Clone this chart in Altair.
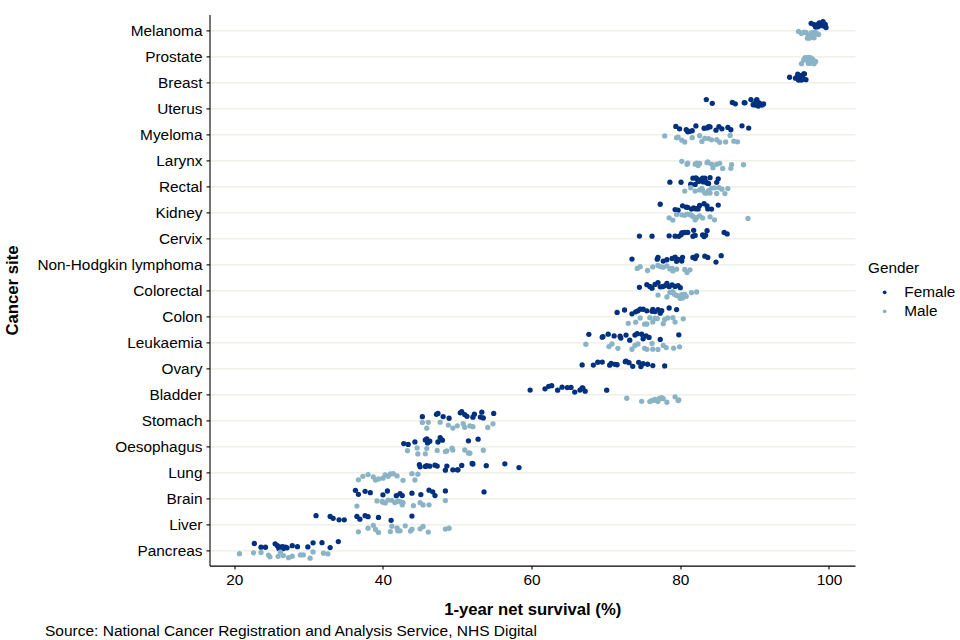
import altair as alt
import pandas as pd

# ---------------- data (1-year net survival, %) ----------------
sites = ["Melanoma", "Prostate", "Breast", "Uterus", "Myeloma", "Larynx", "Rectal",
         "Kidney", "Cervix", "Non-Hodgkin lymphoma", "Colorectal", "Colon", "Leukaemia",
         "Ovary", "Bladder", "Stomach", "Oesophagus", "Lung", "Brain", "Liver", "Pancreas"]
genders = ["Female", "Male"]

melanoma_f = [97.6, 98.0, 98.3, 98.5, 98.7, 98.8, 98.9, 99.0, 99.1, 99.2, 99.3, 99.4, 99.5, 99.6, 98.6, 99.0, 98.2]
melanoma_m = [95.9, 96.3, 96.6, 96.9, 97.1, 97.3, 97.4, 97.6, 97.7, 97.9, 98.0, 98.2, 98.4, 98.6, 97.5, 97.2, 97.8]
prostate_m = [96.3, 96.6, 96.8, 97.0, 97.1, 97.2, 97.3, 97.4, 97.5, 97.6, 97.7, 97.8, 98.0, 98.2, 97.2, 97.5]
breast_f = [94.7, 95.5, 95.7, 95.8, 95.9, 96.0, 96.1, 96.2, 96.3, 96.4, 96.5, 96.6, 96.7, 96.9, 96.0, 96.3]
uterus_f = [83.5, 84.3, 87.0, 87.4, 88.6, 88.7, 89.5, 89.8, 90.0, 90.1, 90.2, 90.3, 90.4, 90.5, 90.6, 90.7, 90.8, 91.0, 91.2, 89.9]
myeloma_f = [79.4, 79.9, 80.8, 81.2, 81.6, 82.1, 83.2, 83.6, 83.8, 84.8, 85.2, 85.6, 86.4, 86.8, 88.3, 89.2, 81.0, 84.0]
myeloma_m = [77.9, 79.5, 79.7, 80.6, 81.6, 82.6, 83.3, 83.8, 84.2, 84.9, 85.3, 86.1, 86.7, 87.2, 87.7, 80.2, 82.9]
larynx_m = [80.2, 80.9, 81.0, 82.0, 82.2, 82.4, 82.6, 83.6, 83.7, 84.2, 84.4, 84.9, 85.3, 85.7, 86.8, 86.9, 88.5]
rectal_f = [78.6, 80.1, 81.4, 81.7, 82.0, 82.1, 82.3, 82.4, 82.6, 82.8, 83.0, 83.1, 83.3, 83.4, 83.6, 83.8, 84.0, 84.9, 85.1]
rectal_m = [80.6, 81.4, 82.0, 82.6, 82.9, 83.3, 83.5, 83.8, 84.2, 84.6, 84.9, 85.2, 85.6, 86.0, 86.4, 83.0, 84.0]
kidney_f = [77.3, 79.3, 79.7, 80.3, 81.0, 81.5, 82.0, 82.4, 82.6, 83.6, 83.7, 85.1, 80.8, 81.8, 82.2, 83.2, 84.2]
kidney_m = [78.5, 79.0, 79.5, 80.2, 80.6, 81.3, 81.7, 82.2, 82.6, 84.0, 84.6, 89.1, 80.9, 81.5, 82.0, 83.0]
cervix_f = [74.5, 76.2, 78.5, 79.3, 79.8, 80.1, 80.2, 80.3, 80.6, 81.0, 81.7, 81.8, 82.0, 83.0, 83.2, 83.4, 83.6, 85.9, 86.3]
nhl_f = [73.5, 76.9, 77.0, 77.7, 78.2, 78.9, 79.3, 79.5, 79.7, 80.2, 80.3, 81.7, 82.0, 82.2, 83.3, 83.7, 84.8, 85.5]
nhl_m = [74.2, 74.6, 75.6, 76.3, 77.3, 77.7, 78.2, 78.6, 79.0, 79.5, 80.6, 80.9, 81.3, 77.0, 78.9]
colorectal_f = [74.5, 75.5, 75.9, 76.6, 77.0, 77.3, 77.9, 78.2, 78.9, 79.3, 79.7, 80.0, 76.2, 77.6, 78.5]
colorectal_m = [77.0, 78.2, 78.6, 79.0, 79.5, 79.7, 80.0, 80.2, 80.3, 80.6, 81.5, 82.2, 79.2, 80.8]
colon_f = [71.5, 72.5, 73.5, 74.0, 74.6, 75.0, 75.5, 76.2, 76.3, 77.0, 77.3, 77.5, 78.5, 79.5, 74.3, 76.6]
colon_m = [73.0, 74.0, 74.6, 75.2, 75.5, 76.3, 76.6, 76.9, 77.7, 77.9, 78.3, 79.0, 79.3, 80.4, 75.9]
leukaemia_f = [67.7, 69.5, 69.6, 70.3, 71.1, 71.9, 72.7, 73.2, 73.9, 74.2, 75.0, 75.4, 75.8, 77.3, 79.8, 72.0, 74.8]
leukaemia_m = [67.3, 70.4, 70.8, 71.6, 73.5, 73.9, 74.3, 75.2, 75.5, 76.2, 76.3, 77.0, 77.7, 78.1, 79.1, 79.9]
ovary_f = [66.8, 68.3, 68.9, 69.5, 70.5, 70.7, 71.2, 71.5, 72.6, 72.7, 73.1, 73.6, 74.4, 74.7, 75.0, 75.6, 76.3, 77.9]
bladder_f = [59.8, 61.8, 62.3, 62.7, 63.5, 64.1, 64.8, 65.3, 65.8, 66.5, 66.8, 66.9, 67.2, 70.1]
bladder_m = [72.8, 74.8, 75.9, 76.2, 76.6, 76.9, 77.0, 77.5, 77.7, 78.2, 79.3, 79.7, 79.8, 76.4, 77.2]
stomach_f = [45.3, 47.2, 47.4, 48.1, 48.9, 50.4, 50.6, 51.0, 51.3, 52.1, 52.3, 53.1, 53.3, 53.5, 54.9]
stomach_m = [45.3, 45.9, 46.1, 47.7, 48.8, 49.4, 50.0, 50.8, 51.0, 51.7, 52.1, 54.1, 54.8]
oesophagus_f = [42.8, 43.4, 44.3, 45.7, 45.9, 46.3, 47.4, 47.7, 48.0, 51.5, 52.8, 46.0]
oesophagus_m = [43.3, 44.6, 44.7, 45.7, 45.9, 47.3, 48.4, 48.6, 49.3, 49.4, 51.0, 51.5, 51.7, 53.5]
lung_f = [45.0, 44.9, 45.7, 45.9, 46.3, 47.0, 47.3, 48.4, 48.6, 49.4, 50.0, 50.1, 50.6, 52.0, 52.1, 53.9, 56.4, 58.3]
lung_m = [36.7, 37.3, 38.0, 38.7, 39.4, 40.0, 40.7, 41.4, 41.9, 42.7, 43.9, 44.3, 44.7, 39.0, 40.3, 41.0]
brain_f = [36.3, 36.7, 37.6, 38.3, 40.0, 40.6, 41.8, 42.3, 42.6, 43.9, 45.1, 46.2, 46.7, 47.0, 48.4, 53.6]
brain_m = [36.5, 39.2, 39.9, 40.0, 40.3, 40.7, 41.2, 41.6, 42.0, 42.3, 42.6, 42.7, 44.1, 45.0, 45.4, 46.2, 48.4]
liver_f = [31.0, 32.9, 33.3, 34.1, 34.8, 36.5, 36.9, 37.6, 38.0, 39.4, 41.1, 43.9]
liver_m = [36.7, 38.0, 38.7, 39.0, 39.4, 41.0, 41.2, 41.9, 42.0, 42.3, 43.0, 43.7, 43.9, 45.0, 45.4, 46.1, 48.4, 48.9]
pancreas_f = [22.7, 23.6, 24.2, 25.5, 25.8, 26.2, 26.5, 26.6, 26.9, 27.1, 27.8, 28.5, 29.9, 30.6, 31.8, 32.9, 34.0, 26.0, 26.3]
pancreas_m = [20.7, 22.6, 23.6, 24.6, 24.8, 25.9, 26.2, 26.6, 27.3, 27.8, 28.9, 29.3, 30.2, 30.6, 32.0, 32.6]

caption = "Source: National Cancer Registration and Analysis Service, NHS Digital"

groups = [
    ("Melanoma", "Female", melanoma_f), ("Melanoma", "Male", melanoma_m),
    ("Prostate", "Male", prostate_m), ("Breast", "Female", breast_f),
    ("Uterus", "Female", uterus_f),
    ("Myeloma", "Female", myeloma_f), ("Myeloma", "Male", myeloma_m),
    ("Larynx", "Male", larynx_m),
    ("Rectal", "Female", rectal_f), ("Rectal", "Male", rectal_m),
    ("Kidney", "Female", kidney_f), ("Kidney", "Male", kidney_m),
    ("Cervix", "Female", cervix_f),
    ("Non-Hodgkin lymphoma", "Female", nhl_f), ("Non-Hodgkin lymphoma", "Male", nhl_m),
    ("Colorectal", "Female", colorectal_f), ("Colorectal", "Male", colorectal_m),
    ("Colon", "Female", colon_f), ("Colon", "Male", colon_m),
    ("Leukaemia", "Female", leukaemia_f), ("Leukaemia", "Male", leukaemia_m),
    ("Ovary", "Female", ovary_f),
    ("Bladder", "Female", bladder_f), ("Bladder", "Male", bladder_m),
    ("Stomach", "Female", stomach_f), ("Stomach", "Male", stomach_m),
    ("Oesophagus", "Female", oesophagus_f), ("Oesophagus", "Male", oesophagus_m),
    ("Lung", "Female", lung_f), ("Lung", "Male", lung_m),
    ("Brain", "Female", brain_f), ("Brain", "Male", brain_m),
    ("Liver", "Female", liver_f), ("Liver", "Male", liver_m),
    ("Pancreas", "Female", pancreas_f), ("Pancreas", "Male", pancreas_m),
]

rows = []
for site, g, vals in groups:
    for v in vals:
        rows.append({"site": site, "gender": g, "survival": v})
df = pd.DataFrame(rows)

FONT = "Liberation Sans"
female_col = "#00307F"
male_col = "#8AB4C6"

points = (
    alt.Chart(df)
    .transform_window(rn="row_number()")
    .transform_calculate(
        jit="(datum.gender == 'Female' ? -4.9 : 4.9) + 3.6 * (2 * (abs(sin(datum.rn * 12.9898 + 78.233) * 43758.5453) % 1) - 1)"
    )
    .mark_circle(size=28, opacity=1)
    .encode(
        x=alt.X(
            "survival:Q",
            scale=alt.Scale(domain=[16.67, 103.5], nice=False, zero=False),
            axis=alt.Axis(
                values=[20, 40, 60, 80, 100], grid=False, title="1-year net survival (%)",
                tickSize=3.5, labelPadding=3, titleY=48.5, titleBaseline="alphabetic",
            ),
        ),
        y=alt.Y(
            "site:N",
            sort=sites,
            scale=alt.Scale(type="point", padding=0.6),
            axis=alt.Axis(
                title="Cancer site", grid=True, tickSize=3.5, labelPadding=4,
                titleX=-197.5, titleBaseline="middle", titleAngle=-90,
            ),
        ),
        yOffset=alt.YOffset("jit:Q", scale=None),
        color=alt.Color(
            "gender:N",
            scale=alt.Scale(domain=genders, range=[female_col, male_col]),
            legend=alt.Legend(
                title="Gender", orient="none", legendX=658.5, legendY=247,
                symbolType="circle", symbolSize=14, symbolOffset=9, labelOffset=12,
                rowPadding=3, titlePadding=8, padding=0,
            ),
        ),
    )
)

cap = (
    alt.Chart(pd.DataFrame({"t": [caption]}))
    .mark_text(align="left", baseline="alphabetic", font=FONT, fontSize=15.5, color="#000000")
    .encode(x=alt.value(45 - 209.5), y=alt.value(635.5 - 14.4), text="t:N")
)

chart = (
    alt.layer(points, cap)
    .properties(
        width=645.5, height=551.2, autosize="none",
        padding={"left": 209.5, "top": 14.4, "right": 105, "bottom": 74.4},
    )
    .configure_view(stroke=None)
    .configure_axis(
        labelFont=FONT, titleFont=FONT, labelFontSize=15.4, titleFontSize=16.7,
        labelColor="#000000", titleColor="#000000", titleFontWeight="bold",
        domainColor="#000000", tickColor="#000000", domainWidth=1.1, tickWidth=1.1,
        gridColor="#E8E8DA", gridWidth=1,
    )
    .configure_legend(
        labelFont=FONT, titleFont=FONT, labelFontSize=15.3, titleFontSize=15.3,
        titleFontWeight="normal", labelColor="#000000", titleColor="#000000",
    )
)

chart.save("out.html", embed_options={"renderer": "svg", "actions": False})
